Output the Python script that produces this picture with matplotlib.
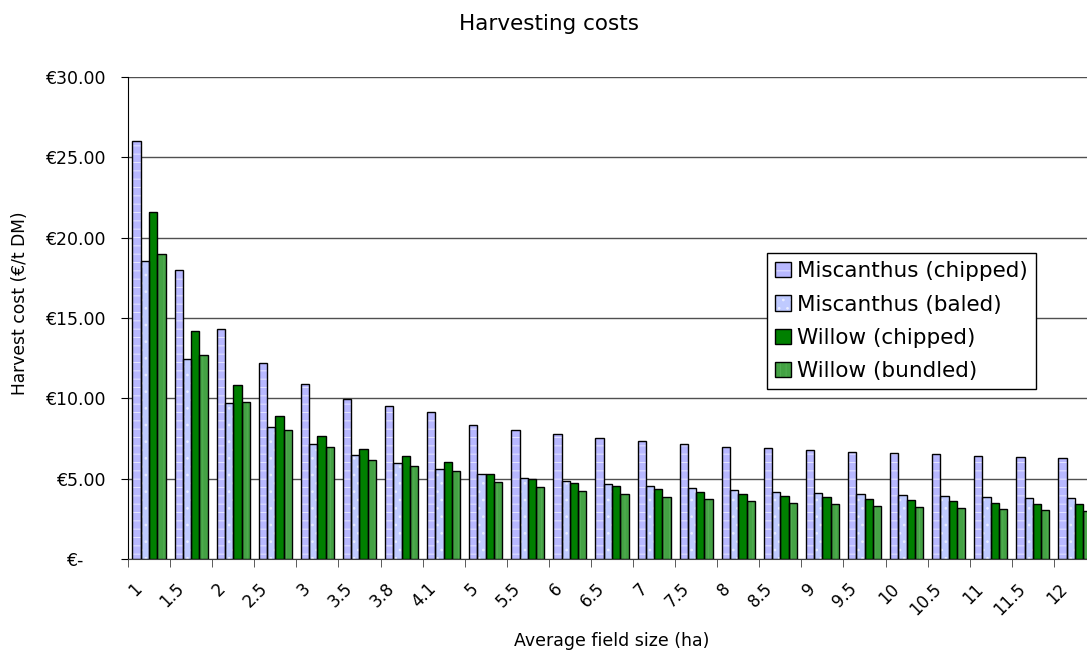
import matplotlib
matplotlib.use("Agg")
import matplotlib.pyplot as plt
import matplotlib.transforms as mtransforms
from matplotlib.legend_handler import HandlerTuple
import numpy as np

# average field size (ha) categories
sizes = ['1', '1.5', '2', '2.5', '3', '3.5', '3.8', '4.1', '5', '5.5', '6', '6.5',
         '7', '7.5', '8', '8.5', '9', '9.5', '10', '10.5', '11', '11.5', '12']

# harvest cost (EUR/t DM)
misc_chipped = [26.00, 17.96, 14.29, 12.22, 10.87, 9.94, 9.50, 9.17, 8.36, 8.03, 7.76, 7.53,
                7.32, 7.18, 7.00, 6.89, 6.78, 6.68, 6.60, 6.51, 6.43, 6.37, 6.30]
misc_baled = [18.56, 12.46, 9.71, 8.19, 7.18, 6.47, 5.97, 5.58, 5.27, 5.06, 4.83, 4.67,
              4.52, 4.40, 4.29, 4.19, 4.13, 4.04, 3.96, 3.92, 3.88, 3.81, 3.78]
willow_chipped = [21.60, 14.21, 10.83, 8.90, 7.65, 6.83, 6.41, 6.05, 5.27, 5.00, 4.73, 4.52,
                  4.36, 4.19, 4.04, 3.94, 3.84, 3.73, 3.65, 3.59, 3.50, 3.44, 3.40]
willow_bundled = [18.96, 12.71, 9.75, 8.05, 6.95, 6.16, 5.79, 5.47, 4.77, 4.48, 4.25, 4.04,
                  3.88, 3.73, 3.61, 3.50, 3.40, 3.32, 3.24, 3.15, 3.09, 3.03, 2.97]

series = [
    ("Miscanthus (chipped)", misc_chipped, "#B8B8FF", "--", "#E4E4FF"),
    ("Miscanthus (baled)", misc_baled, "#BFCAFF", "..", "#E8ECFF"),
    ("Willow (chipped)", willow_chipped, "#008000", None, None),
    ("Willow (bundled)", willow_bundled, "#44A244", "|||", "#52AE52"),
]

plt.rcParams['font.family'] = ['DejaVu Sans']
plt.rcParams['hatch.linewidth'] = 0.7

fig = plt.figure(figsize=(10.87, 6.5), dpi=100)
# axes runs slightly past the right edge, like the original screenshot
ax = fig.add_axes([128 / 1087, 91 / 650, 968 / 1087, 482 / 650])

x = np.arange(len(sizes))
w = 0.197
handles = []
for i, (name, vals, color, hatch, hcolor) in enumerate(series):
    pos = x + (i - 1.5) * w
    fill = ax.bar(pos, vals, w, color=color, linewidth=0, zorder=2)
    parts = [fill[0]]
    if hatch:
        over = ax.bar(pos, vals, w, facecolor="none", edgecolor=hcolor, hatch=hatch,
                      linewidth=0, zorder=3)
        parts.append(over[0])
    edge = ax.bar(pos, vals, w, facecolor="none", edgecolor="black", linewidth=1, zorder=4)
    parts.append(edge[0])
    handles.append(tuple(parts))

ax.set_xlim(-0.5, len(sizes) - 0.5)
ax.set_ylim(0, 30)

ax.set_yticks(np.arange(0, 31, 5))
ax.set_yticklabels(["€-    "] + [f"€{v:.2f}" for v in np.arange(5, 31, 5)])
ax.yaxis.grid(True, color="#505050", linewidth=1)
ax.set_axisbelow(True)

ax.set_xticks(x)
ax.set_xticklabels(sizes, rotation=45, ha="right", va="center", rotation_mode="anchor")
ax.set_xticks(np.arange(-0.5, len(sizes), 1), minor=True)
ax.tick_params(axis="x", which="major", length=0, pad=19.5, labelsize=12)
ax.tick_params(axis="x", which="minor", length=6, direction="out", color="#404040")
ax.tick_params(axis="y", length=5, direction="out", pad=11, labelsize=12.5)
shift = mtransforms.ScaledTranslation(-10 / 100, 0, fig.dpi_scale_trans)
for lab in ax.get_xticklabels():
    lab.set_transform(lab.get_transform() + shift)

for s in ["top", "right"]:
    ax.spines[s].set_visible(False)
ax.spines["bottom"].set_color("#404040")
ax.spines["left"].set_color("black")

fig.text(549 / 1087, 1 - 29.5 / 650, "Harvesting costs", ha="center", va="baseline", fontsize=15.5)
fig.text(612 / 1087, 1 - 641 / 650, "Average field size (ha)", ha="center", va="center", fontsize=12.5)
fig.text(20 / 1087, 1 - 303 / 650, "Harvest cost (€/t DM)", ha="center", va="center",
         rotation=90, fontsize=12.3)

leg = ax.legend(handles, [s[0] for s in series], handler_map={tuple: HandlerTuple(ndivide=1)},
                loc="upper left", bbox_to_anchor=(767 / 1087, 1 - 253 / 650),
                bbox_transform=fig.transFigure, borderaxespad=0, fancybox=False,
                edgecolor="black", framealpha=1, fontsize=15.5, handlelength=0.72,
                handleheight=0.72, handletextpad=0.28, labelspacing=0.62, borderpad=0.38)
leg.get_frame().set_linewidth(1)

fig.savefig("out.png", dpi=100)
